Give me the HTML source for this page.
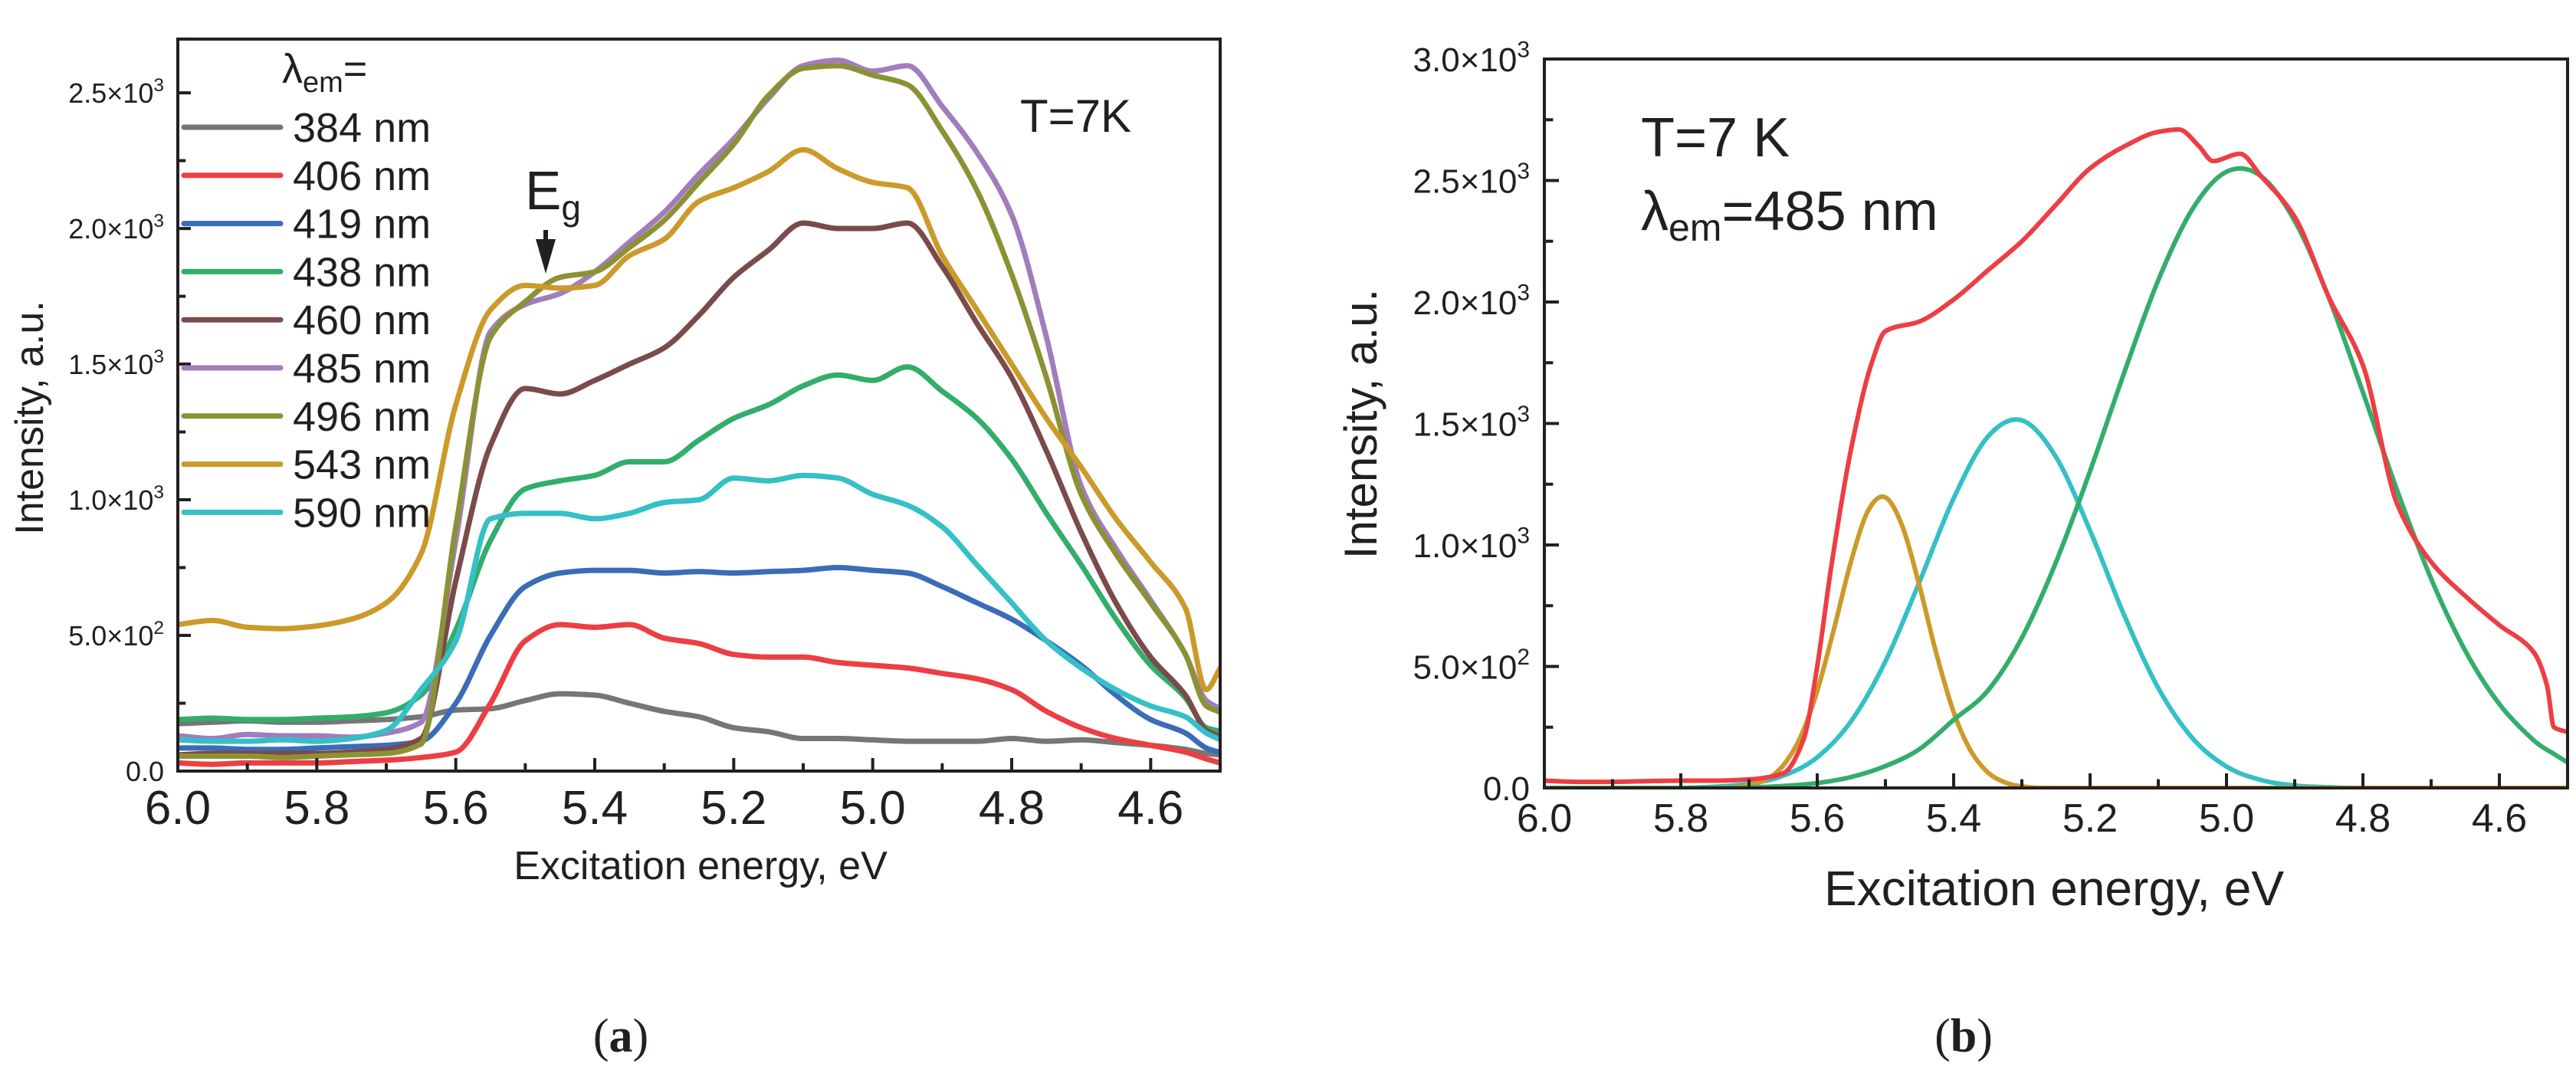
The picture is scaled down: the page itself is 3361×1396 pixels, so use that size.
<!DOCTYPE html>
<html><head><meta charset="utf-8">
<style>
html,body{margin:0;padding:0;background:#fff;}
svg{display:block;font-family:"Liberation Sans",Arial,sans-serif;}
</style></head>
<body>
<svg id="fig" width="3361" height="1396" viewBox="0 0 3361 1396" xmlns="http://www.w3.org/2000/svg">
<rect width="3361" height="1396" fill="#fff"/>
<g id="chartA"></g>
<g id="chartB"></g>

<text transform="translate(56,545) rotate(-90)" text-anchor="middle" font-size="52" fill="#231f20">Intensity, a.u.</text>
<text x="914" y="1147" text-anchor="middle" font-size="52" fill="#231f20">Excitation energy, eV</text>
<text x="1331" y="172" font-size="60" fill="#231f20">T=7K</text>
<text x="368" y="108" font-size="54" fill="#231f20">λ<tspan font-size="38" dy="12">em</tspan><tspan dy="-12">=</tspan></text>
<text x="685" y="273" font-size="71" fill="#231f20">E<tspan font-size="46" dy="14">g</tspan></text>
<path d="M709,300 L715,300 L715,312 L725,312 L712,357 L699,312 L709,312 Z" fill="#231f20"/>
<text x="810" y="1372" text-anchor="middle" font-size="62" font-family="Liberation Serif,serif" fill="#231f20">(<tspan font-weight="bold">a</tspan>)</text>

<text transform="translate(1796,553) rotate(-90)" text-anchor="middle" font-size="60" fill="#231f20">Intensity, a.u.</text>
<text x="2680" y="1181" text-anchor="middle" font-size="64" fill="#231f20">Excitation energy, eV</text>
<text x="2141" y="204" font-size="72" fill="#231f20">T=7 K</text>
<text x="2141" y="300" font-size="72" fill="#231f20">λ<tspan font-size="50" dy="14">em</tspan><tspan dy="-14">=485 nm</tspan></text>
<text x="2562" y="1372" text-anchor="middle" font-size="62" font-family="Liberation Serif,serif" fill="#231f20">(<tspan font-weight="bold">b</tspan>)</text>
</svg>

<script>
// ---------- data: panel A ----------
const energyA = [6.0,5.95,5.9,5.85,5.8,5.75,5.7,5.65,5.6,5.55,5.5,5.45,5.4,5.35,5.3,5.25,5.2,5.15,5.1,5.05,5.0,4.95,4.9,4.85,4.8,4.75,4.7,4.65,4.6,4.55,4.52,4.5];
const seriesNamesA = ["384 nm","406 nm","419 nm","438 nm","460 nm","485 nm","496 nm","543 nm","590 nm"];
const s384 = [175,180,185,180,180,185,190,200,225,230,260,285,280,250,220,200,160,145,120,120,115,110,110,110,120,110,115,105,95,80,65,60];
const s406 = [30,25,30,30,30,35,40,50,70,250,480,540,530,540,490,470,430,420,420,400,390,380,360,340,300,220,160,120,95,70,45,30];
const s419 = [85,85,80,80,85,90,95,110,250,500,680,730,740,740,730,735,730,735,740,750,740,730,680,620,560,480,390,280,190,140,85,68];
const s438 = [190,195,190,190,195,200,215,280,520,850,1040,1070,1090,1140,1140,1220,1300,1350,1420,1460,1440,1490,1400,1300,1150,950,760,560,390,270,160,147];
const s460 = [60,65,65,65,65,70,80,120,700,1200,1410,1390,1440,1500,1560,1680,1820,1920,2020,2000,2000,2020,1860,1650,1450,1180,880,620,420,280,150,127];
const s485 = [130,120,135,130,130,125,140,180,850,1620,1720,1760,1840,1950,2060,2200,2330,2480,2600,2620,2580,2600,2450,2280,2050,1600,1050,820,630,430,260,230];
const s496 = [55,55,55,50,55,60,65,100,900,1600,1730,1820,1840,1930,2030,2170,2310,2490,2590,2600,2565,2530,2360,2140,1830,1450,1020,800,620,430,240,217];
const s543 = [540,555,530,525,535,560,620,800,1350,1700,1790,1780,1790,1900,1960,2100,2150,2210,2290,2220,2170,2150,1900,1700,1500,1300,1120,930,770,600,300,380];
const s590 = [115,110,110,115,110,120,150,300,480,930,950,950,930,950,990,1000,1080,1070,1090,1080,1020,980,900,760,620,480,380,300,240,200,140,116];
const yTickValsA = [0,500,1000,1500,2000,2500];
const yTickLabelsA = [["0.0",""],["5.0×10","2"],["1.0×10","3"],["1.5×10","3"],["2.0×10","3"],["2.5×10","3"]];
const xTickValsA = [6.0,5.8,5.6,5.4,5.2,5.0,4.8,4.6];
const xTickLabelsA = ["6.0","5.8","5.6","5.4","5.2","5.0","4.8","4.6"];

// ---------- data: panel B ----------
const energyB = [6.0,5.95,5.9,5.85,5.8,5.75,5.7,5.65,5.6,5.55,5.5,5.45,5.4,5.35,5.3,5.25,5.2,5.15,5.1,5.05,5.0,4.95,4.9,4.85,4.8,4.75,4.7,4.65,4.6,4.55,4.52,4.5];
const energyRed = [6.0,5.95,5.9,5.85,5.8,5.75,5.7,5.65,5.62,5.6,5.58,5.55,5.52,5.5,5.45,5.4,5.35,5.3,5.25,5.2,5.15,5.1,5.07,5.04,5.02,4.98,4.95,4.9,4.85,4.8,4.75,4.7,4.65,4.6,4.55,4.53,4.52,4.5];
const measuredB = [30,25,25,28,30,30,35,60,200,500,900,1400,1750,1880,1920,2010,2130,2250,2400,2550,2640,2700,2710,2640,2580,2610,2520,2350,2020,1740,1170,930,790,670,560,420,250,230];
const greenB = [0,0,0,0,0,1,2,8,20,45,90,160,280,400,618,929,1304,1709,2090,2382,2536,2519,2334,2018,1628,1226,861,565,345,197,140,105];
const cyanB = [0,0,0,0,0,5,17,50,126,276,521,849,1192,1445,1513,1362,1059,711,411,205,88,33,10,3,0,0,0,0,0,0,0,0];
const energyGold = [6.0,5.8,5.725,5.7,5.675,5.65,5.625,5.6,5.575,5.55,5.525,5.5,5.475,5.45,5.425,5.4,5.375,5.35,5.325,5.3,5.25,5.0,4.5];
const goldB = [0,0,3,12,35,92,207,399,660,937,1143,1196,1075,830,549,312,153,64,23,7,0,0,0];
const yTickValsB = [0,500,1000,1500,2000,2500,3000];
const yTickLabelsB = [["0.0",""],["5.0×10","2"],["1.0×10","3"],["1.5×10","3"],["2.0×10","3"],["2.5×10","3"],["3.0×10","3"]];
const xTickValsB = [6.0,5.8,5.6,5.4,5.2,5.0,4.8,4.6];
const xTickLabelsB = ["6.0","5.8","5.6","5.4","5.2","5.0","4.8","4.6"];

const NS = "http://www.w3.org/2000/svg";
function mk(tag, attrs, parent){
  const e = document.createElementNS(NS, tag);
  for (const k in attrs) e.setAttribute(k, attrs[k]);
  if (parent) parent.appendChild(e);
  return e;
}
function monoPath(pts){
  const n = pts.length;
  const dx = [], m = [], t = [];
  for (let i = 0; i < n-1; i++){ dx[i] = pts[i+1][0]-pts[i][0]; m[i] = (pts[i+1][1]-pts[i][1])/dx[i]; }
  t[0] = m[0]; t[n-1] = m[n-2];
  for (let i = 1; i < n-1; i++){
    if (m[i-1]*m[i] <= 0) t[i] = 0;
    else { const w1 = 2*dx[i]+dx[i-1], w2 = dx[i]+2*dx[i-1]; t[i] = (w1+w2)/(w1/m[i-1]+w2/m[i]); }
  }
  let d = "M" + pts[0][0].toFixed(1) + "," + pts[0][1].toFixed(1);
  for (let i = 0; i < n-1; i++){
    const h = dx[i]/3;
    d += " C" + (pts[i][0]+h).toFixed(1)+","+(pts[i][1]+t[i]*h).toFixed(1)+" "+(pts[i+1][0]-h).toFixed(1)+","+(pts[i+1][1]-t[i+1]*h).toFixed(1)+" "+pts[i+1][0].toFixed(1)+","+pts[i+1][1].toFixed(1);
  }
  return d;
}
function crPath(pts, yMaxPix){
  let d = "M" + pts[0][0].toFixed(1) + "," + pts[0][1].toFixed(1);
  for (let i = 0; i < pts.length - 1; i++){
    const p0 = pts[Math.max(i-1,0)], p1 = pts[i], p2 = pts[i+1], p3 = pts[Math.min(i+2,pts.length-1)];
    const c1x = p1[0] + (p2[0]-p0[0])/6, c1y = Math.min(yMaxPix, p1[1] + (p2[1]-p0[1])/6);
    const c2x = p2[0] - (p3[0]-p1[0])/6, c2y = Math.min(yMaxPix, p2[1] - (p3[1]-p1[1])/6);
    d += " C" + c1x.toFixed(1)+","+c1y.toFixed(1)+" "+c2x.toFixed(1)+","+c2y.toFixed(1)+" "+p2[0].toFixed(1)+","+p2[1].toFixed(1);
  }
  return d;
}

function buildChart(g, cfg){
  const xs = e => cfg.x0 + (cfg.eMax - e) / (cfg.eMax - cfg.eMin) * (cfg.x1 - cfg.x0);
  const ys = v => cfg.y0 - v / cfg.vMax * (cfg.y0 - cfg.y1);
  const clip = mk("clipPath", {id: cfg.id + "clip"}, g);
  mk("rect", {x: cfg.x0, y: cfg.y1, width: cfg.x1 - cfg.x0, height: cfg.y0 - cfg.y1}, clip);
  const lines = mk("g", {"clip-path": "url(#" + cfg.id + "clip)"}, g);
  
  
  cfg.series.forEach(s => {
    const pts = s.ex.map((e,i) => [xs(e), ys(s.vals[i])]);
    const d = s.smooth ? crPath(pts, ys(0)) : monoPath(pts);
    const p = mk("path", {d: d, fill: "none", stroke: s.color, "stroke-width": cfg.lw, "stroke-linejoin": "round", "stroke-linecap": "round"}, lines);
    
    
  });
  const fr = mk("rect", {x: cfg.x0, y: cfg.y1, width: cfg.x1 - cfg.x0, height: cfg.y0 - cfg.y1, fill: "none", stroke: "#231f20", "stroke-width": 4}, g);
  
  
  cfg.yTicks.forEach((v,i) => {
    const y = ys(v);
    const t = mk("line", {x1: cfg.x0, x2: cfg.x0 + cfg.tick, y1: y, y2: y, stroke: "#231f20", "stroke-width": 4}, g);
    
    
    const ym = ys(v + cfg.yMinor);
    if (ym > cfg.y1 + 2){
      const m = mk("line", {x1: cfg.x0, x2: cfg.x0 + cfg.tick*0.6, y1: ym, y2: ym, stroke: "#231f20", "stroke-width": 4}, g);
      
      
    }
    const lab = cfg.yLabels[i];
    const tx = mk("text", {x: cfg.yLabX, y: y + cfg.yFont*0.36, "text-anchor": "end", "font-size": cfg.yFont, fill: "#231f20"}, g);
    
    
    tx.appendChild(document.createTextNode(lab[0]));
    if (lab[1]){
      const sp = mk("tspan", {"font-size": cfg.yFont*0.68, dy: -cfg.yFont*0.42}, tx);
      sp.textContent = lab[1];
    }
  });
  cfg.xTicks.forEach((e,i) => {
    const x = xs(e);
    const t = mk("line", {x1: x, x2: x, y1: cfg.y0, y2: cfg.y0 - cfg.tick, stroke: "#231f20", "stroke-width": 4}, g);
    
    
    const xm = xs(e - 0.1);
    if (xm < cfg.x1 - 2){
      const m = mk("line", {x1: xm, x2: xm, y1: cfg.y0, y2: cfg.y0 - cfg.tick*0.6, stroke: "#231f20", "stroke-width": 4}, g);
      
      
    }
    const tx = mk("text", {x: x, y: cfg.xLabY, "text-anchor": "middle", "font-size": cfg.xFont, fill: "#231f20"}, g);
    
    
    tx.textContent = cfg.xLabels[i];
  });
}

const colorsA = ["#767676","#ee3e43","#3a6cb8","#33ad6b","#7b4a4a","#a27dbd","#8b9235","#cc9a2a","#34c0c6"];
const valsA = [s384,s406,s419,s438,s460,s485,s496,s543,s590];
buildChart(document.getElementById("chartA"), {
  id: "a", x0: 232, x1: 1592, y0: 1006, y1: 51, eMax: 6.0, eMin: 4.5, vMax: 2698, lw: 7,
  tick: 17, yMinor: 250, yTicks: yTickValsA, yLabels: yTickLabelsA, yLabX: 214, yFont: 36,
  xTicks: xTickValsA, xLabels: xTickLabelsA, xLabY: 1075, xFont: 62,
  series: valsA.map((v,i) => ({ex: energyA, vals: v, color: colorsA[i], name: "series-" + seriesNamesA[i].replace(" ","-")}))
});
const gA = document.getElementById("chartA");
seriesNamesA.forEach((n,i) => {
  const y = 166 + i * 62.8;
  const ln = mk("line", {x1: 240, x2: 366, y1: y, y2: y, stroke: colorsA[i], "stroke-width": 7, "stroke-linecap": "round"}, gA);
  
  
  const t = mk("text", {x: 382, y: y + 19, "font-size": 54, fill: "#231f20"}, gA);
  
  
  t.textContent = n;
});

buildChart(document.getElementById("chartB"), {
  id: "b", x0: 2015, x1: 3350, y0: 1028, y1: 77, eMax: 6.0, eMin: 4.5, vMax: 3000, lw: 6,
  tick: 19, yMinor: 250, yTicks: yTickValsB, yLabels: yTickLabelsB, yLabX: 1996, yFont: 44,
  xTicks: xTickValsB, xLabels: xTickLabelsB, xLabY: 1085, xFont: 52,
  series: [
    {ex: energyB, vals: cyanB, color: "#34c0c6", name: "fit-peak-cyan", smooth: true},
    {ex: energyGold, vals: goldB, color: "#cc9a2a", name: "fit-peak-gold", smooth: true},
    {ex: energyB, vals: greenB, color: "#33ad6b", name: "fit-peak-green", smooth: true},
    {ex: energyRed, vals: measuredB, color: "#ee3e43", name: "measured-spectrum"}
  ]
});
</script>
</body></html>
